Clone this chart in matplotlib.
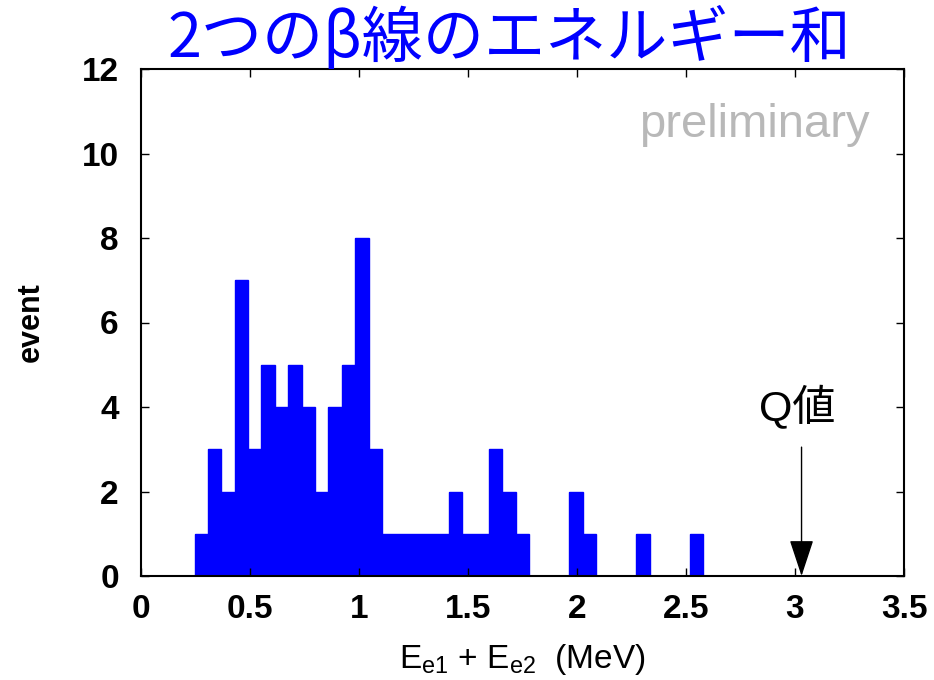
import numpy as np
import matplotlib
matplotlib.use("Agg")
import matplotlib.pyplot as plt

# ---- data ----
bin_start = 0.0
bin_width = 0.0614
counts = [0, 0, 0, 0, 1, 3, 2, 7, 3, 5, 4, 5, 4, 2, 4, 5, 8, 3, 1, 1,
          1, 1, 1, 2, 1, 1, 3, 2, 1, 0, 0, 0, 2, 1, 0, 0, 0, 1, 0, 0,
          0, 1, 0, 0, 0, 0, 0, 0, 0, 0]
x_ticks = [0, 0.5, 1, 1.5, 2, 2.5, 3, 3.5]
x_tick_labels = ["0", "0.5", "1", "1.5", "2", "2.5", "3", "3.5"]
y_ticks = [0, 2, 4, 6, 8, 10, 12]
q_value = 3.03
title = "2つのβ線のエネルギー和"

plt.rcParams['font.family'] = ['Liberation Sans', 'Noto Sans CJK JP']

fig = plt.figure(figsize=(9.34, 6.8), dpi=100)
ax = fig.add_axes([141/934, 1-576/680, (904-141)/934, (576-69)/680])

edges = bin_start + bin_width * np.arange(len(counts) + 1)
ax.stairs(counts, edges, fill=True, color=(0, 0, 1), lw=0)
ax.stairs(counts, edges, fill=False, color=(0, 0, 1), lw=1.0)

ax.set_xlim(0, 3.5)
ax.set_ylim(0, 12)
ax.set_xticks(x_ticks)
ax.set_xticklabels(x_tick_labels)
ax.set_yticks(y_ticks)

ax.tick_params(direction='in', length=6, width=1, top=True, right=True,
               labelsize=24, pad=13)
ax.tick_params(axis='y', pad=16)
for lab in ax.get_xticklabels() + ax.get_yticklabels():
    lab.set_fontweight('bold')
for s in ax.spines.values():
    s.set_linewidth(1.5)

ax.set_ylabel("event", fontsize=22, fontweight='bold', labelpad=26)
ax.set_xlabel(r"E$_{\mathregular{e1}}$ + E$_{\mathregular{e2}}$  (MeV)", fontsize=24, labelpad=12)

fig.text(0.545, 0.942, title, color=(0, 0, 1), fontsize=44,
         ha='center', va='center', family=['Noto Sans CJK JP'])

ax.text(0.955, 0.89, "preliminary", transform=ax.transAxes, fontsize=34,
        color=(0.72, 0.72, 0.72), ha='right', va='center')

ax.annotate("", xy=(q_value, 0), xytext=(q_value, 3.05),
            arrowprops=dict(arrowstyle='-|>,head_length=1.15,head_width=0.38',
                            mutation_scale=20,
                            color='black', lw=1, shrinkA=0, shrinkB=0))
ax.text(q_value - 0.02, 3.45, "Q値", fontsize=31, ha='center', va='bottom')

fig.savefig("out.png", dpi=100)
